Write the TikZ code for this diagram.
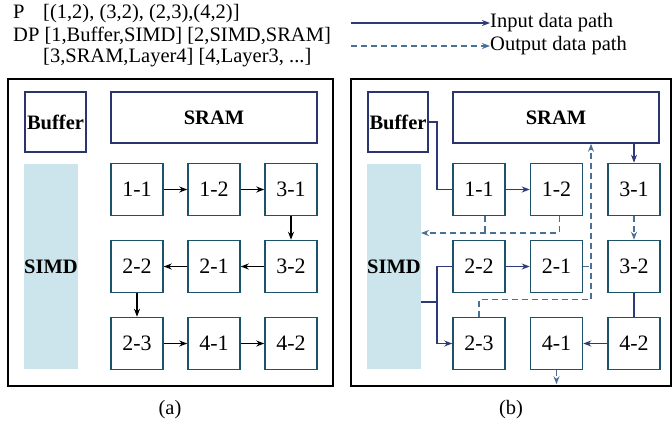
\documentclass[tikz,border=0pt]{standalone}
\usepackage{fontspec}
\setmainfont{Liberation Serif}
\usetikzlibrary{arrows.meta}
\definecolor{cellteal}{RGB}{28, 82, 106}
\definecolor{memnavy}{RGB}{44, 52, 112}
\definecolor{simdblue}{RGB}{204, 228, 236}
\definecolor{innavy}{RGB}{46, 58, 120}
\definecolor{outsteel}{RGB}{74, 112, 150}

\begin{document}
\begin{tikzpicture}[x=1pt, y=-1pt,
    every node/.style={font=\fontsize{20.5}{24}\selectfont, inner sep=0pt},
    cell/.style={draw=cellteal, line width=1.5pt, minimum width=52pt, minimum height=52pt, font=\fontsize{22}{26}\selectfont},
    mem/.style={draw=memnavy, line width=1.5pt, font=\fontsize{20.5}{24}\selectfont\bfseries},
    simd/.style={fill=simdblue, minimum width=52pt, minimum height=205pt, font=\fontsize{20.5}{24}\selectfont\bfseries},
    panelframe/.style={draw=black, line width=2pt},
    headed/.style={-{Stealth[length=8pt, width=6pt]}},
    flow/.style={black, line width=1.5pt, headed},
    inpath/.style={innavy, line width=1.5pt},
    outpath/.style={outsteel, line width=1.5pt, dash pattern=on 6pt off 4pt}]
            \useasboundingbox (0,0) rectangle (672,431);
            % Mapping text
            \node[anchor=base west] (hdrP)      at ( 13, 19) {P};
            \node[anchor=base west] (hdrPlist)  at ( 43, 19) {[(1,2), (3,2), (2,3),(4,2)]};
            \node[anchor=base west] (hdrDP)     at ( 13, 41) {DP [1,Buffer,SIMD] [2,SIMD,SRAM]};
            \node[anchor=base west] (hdrDPmore) at ( 43, 62) {[3,SRAM,Layer4] [4,Layer3, ...]};
            % Legend
            \coordinate (inStart)  at (351, 23);
            \coordinate (outStart) at (351, 46);
            \node[anchor=west] (inLabel)  at (490, 23) {Input data path};
            \node[anchor=west] (outLabel) at (490, 46) {Output data path};
            \draw[inpath, headed]  (inStart)  -- (inLabel.west);
            \draw[outpath, headed] (outStart) -- (outLabel.west);
            % Panel (a)
            \draw[panelframe] (8, 79) rectangle (333, 386);
            \node[mem, minimum width=61pt, minimum height=60pt]  (bufA)  at ( 55.5, 122.0) {Buffer};
            \node[mem, minimum width=206pt, minimum height=51pt] (sramA) at (214.0, 117.5) {SRAM};
            \node[simd] (simdA) at (51.0, 266.5) {SIMD};
            \node[cell] (a11) at (137.0, 189.5) {1-1};
            \node[cell] (a12) at (214.0, 189.5) {1-2};
            \node[cell] (a31) at (291.0, 189.5) {3-1};
            \node[cell] (a22) at (137.0, 266.5) {2-2};
            \node[cell] (a21) at (214.0, 266.5) {2-1};
            \node[cell] (a32) at (291.0, 266.5) {3-2};
            \node[cell] (a23) at (137.0, 343.5) {2-3};
            \node[cell] (a41) at (214.0, 343.5) {4-1};
            \node[cell] (a42) at (291.0, 343.5) {4-2};
            \draw[flow] (a11) -- (a12);
            \draw[flow] (a12) -- (a31);
            \draw[flow] (a31) -- (a32);
            \draw[flow] (a32) -- (a21);
            \draw[flow] (a21) -- (a22);
            \draw[flow] (a22) -- (a23);
            \draw[flow] (a23) -- (a41);
            \draw[flow] (a41) -- (a42);
            \node (capA) at (170, 410) {(a)};
            % Panel (b)
            \draw[panelframe] (351, 79) rectangle (671, 386);
            \node[mem, minimum width=60pt, minimum height=60pt]  (bufB)  at (398.0, 122.0) {Buffer};
            \node[mem, minimum width=206pt, minimum height=51pt] (sramB) at (556.0, 117.5) {SRAM};
            \node[simd] (simdB) at (394.0, 266.5) {SIMD};
            \node[cell] (b11) at (479.0, 189.5) {1-1};
            \node[cell] (b12) at (556.5, 189.5) {1-2};
            \node[cell] (b31) at (634.0, 189.5) {3-1};
            \node[cell] (b22) at (479.0, 266.5) {2-2};
            \node[cell] (b21) at (556.5, 266.5) {2-1};
            \node[cell] (b32) at (634.0, 266.5) {3-2};
            \node[cell] (b23) at (479.0, 343.5) {2-3};
            \node[cell] (b41) at (556.5, 343.5) {4-1};
            \node[cell] (b42) at (634.0, 343.5) {4-2};
            % input data
            \draw[inpath]         (bufB.east) -- ++(8, 0) |- (b11.west);
            \draw[inpath, headed] (b11) -- (b12);
            \draw[inpath, headed] (sramB.south -| b31.north) -- (b31.north);
            \draw[inpath]         ([yshift=-35.5pt]simdB.east) -- ++(16, 0) coordinate (simdFork);
            \draw[inpath]         (simdFork) |- (b22.west);
            \draw[inpath, headed] (simdFork) |- (b23.west);
            \draw[inpath, headed] (b22) -- (b21);
            \draw[inpath]         (b32) -- (b42);
            \draw[inpath, headed] (b42) -- (b41);
            % output data
            \draw[outpath]         ([xshift=6pt]b11.south) -- ++(0, 17.5);
            \draw[outpath, headed] ([xshift=3pt]b12.south) |- ([yshift=33.5pt]simdB.east);
            \draw[outpath, headed] (b31) -- (b32);
            \draw[outpath]         (b21.east) -- ++(8.5, 0);
            \draw[outpath, headed] (b23.north) -- ++(0, -17.5) -| ([xshift=35pt]sramB.south);
            \draw[outpath, headed] (b41.south) -- ++(0, 14);
            \node (capB) at (511, 410) {(b)};
\end{tikzpicture}
\end{document}
